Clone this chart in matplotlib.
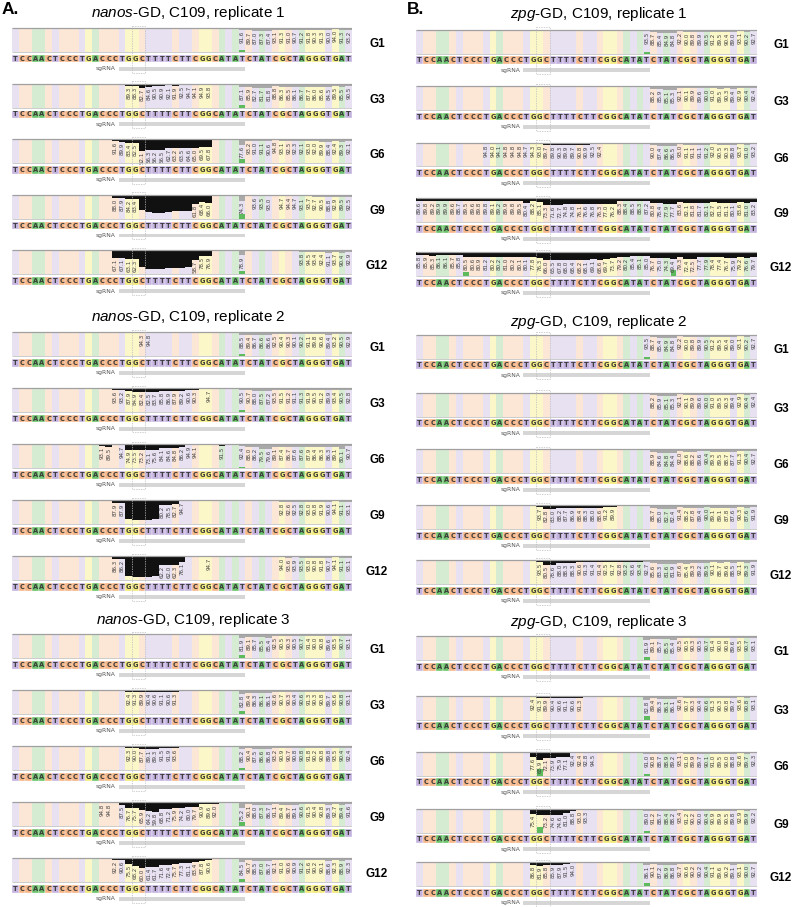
import numpy as np
import matplotlib
matplotlib.use("Agg")
import matplotlib.pyplot as plt
from matplotlib.patches import Rectangle

plt.rcParams["font.family"] = ["Liberation Sans", "DejaVu Sans"]
plt.rcParams["mathtext.fontset"] = "custom"
plt.rcParams["mathtext.it"] = "Liberation Sans:italic"
plt.rcParams["mathtext.rm"] = "Liberation Sans"

# ---------------- data ----------------
sequence = "TCCAACTCCCTGACCCTGGCTTTTCTTCGGCATATCTATCGCTAGGGTGAT"
generations = ["G1", "G3", "G6", "G9", "G12"]
titles_A = [r"$\mathit{nanos}$-GD, C109, replicate 1",
            r"$\mathit{nanos}$-GD, C109, replicate 2",
            r"$\mathit{nanos}$-GD, C109, replicate 3"]
titles_B = [r"$\mathit{zpg}$-GD, C109, replicate 1",
            r"$\mathit{zpg}$-GD, C109, replicate 2",
            r"$\mathit{zpg}$-GD, C109, replicate 3"]

# each panel: list of (first position index, consecutive % values)
nanos_r1_G1 = [(34, [91.6, 89.7, 87.0, 87.3, 87.4, 93.1, 91.3, 91.0, 90.7, 91.2, 91.8, 90.3, 91.3, 90.0, 94.0, 91.3, 93.2])]
nanos_r1_G3 = [(17, [89.3, 88.3, 82.7, 84.6, 90.5, 90.9, 92.1, 91.9, 92.5, 94.7, 94.1, 94.9, 93.8]),
               (34, [87.1, 85.9, 82.7, 81.7, 81.8, 88.8, 86.3, 85.5, 86.1, 86.7, 87.7, 86.0, 85.6, 84.5, 89.5, 85.5, 90.5])]
nanos_r1_G6 = [(15, [91.6, 89.9, 83.4, 82.5, 52.1, 56.3, 56.2, 56.5, 62.7, 63.2, 63.5, 64.6, 65.0, 69.5, 67.8]),
               (34, [77.6, 93.2, 91.0, 91.1, 90.6, 94.8, 93.1, 92.5, 92.3, 92.1, 93.0, 92.0, 89.9, 88.4, 92.4, 89.3, 92.1])]
nanos_r1_G9 = [(15, [88.0, 87.9, 84.2, 83.4, 38.5, 27.0, 25.5, 26.0, 28.0, 30.5, 31.0, 33.5, 61.8, 68.4, 66.0]),
               (34, [74.3]), (36, [93.6, 93.5, 93.0]),
               (40, [94.7, 94.4, 94.7, 93.1, 93.7, 92.7, 90.5, 88.8, 92.9, 89.5, 92.5])]
nanos_r1_G12 = [(15, [67.1, 67.1, 63.1, 62.3, 30.0, 24.5, 23.0, 23.5, 25.0, 26.0, 27.5, 29.0, 58.7, 78.5, 76.9]),
                (34, [78.9]), (43, [93.8, 94.5, 93.4, 92.4, 91.1, 93.7, 90.4, 92.9])]

nanos_r2_G1 = [(18, [95.5, 94.3, 94.8]),
               (34, [88.5, 89.4, 86.7, 86.6, 86.6, 92.5, 90.4, 90.3, 90.1, 90.2, 91.1, 89.8, 90.6, 89.4, 93.2, 90.5, 92.9])]
nanos_r2_G3 = [(15, [93.6, 93.2, 87.9, 84.9, 82.4, 82.5, 83.7, 85.8, 86.9, 87.9, 89.2, 90.6, 90.3]), (29, [94.7]),
               (34, [90.5, 90.7, 88.0, 87.5, 87.2, 93.5, 91.5, 91.2, 91.1, 91.3, 91.9, 90.5, 91.2, 89.9, 93.4, 90.5, 92.8])]
nanos_r2_G6 = [(13, [93.1, 89.5]),
               (16, [94.7, 74.9, 73.5, 73.2, 73.1, 75.6, 84.1, 84.6, 84.8, 86.2, 94.9, 94.1]), (31, [91.5]),
               (34, [92.4, 88.0, 86.2, 79.5, 79.6, 89.1, 87.4, 86.7, 87.6, 87.6, 87.9, 86.4, 86.3, 86.3, 89.1, 80.1, 90.7])]
nanos_r2_G9 = [(15, [87.9, 87.9, 20.0, 18.5, 17.0, 18.0, 22.0, 80.2, 78.5, 82.7, 94.7]),
               (40, [92.8, 92.6, 92.5, 92.8, 93.0, 90.8, 91.9, 90.6, 94.1, 91.1, 93.1])]
nanos_r2_G12 = [(15, [86.3, 86.2, 15.0, 12.5, 12.0, 14.0, 18.0, 62.2, 62.0, 62.3, 76.1]), (29, [94.7]),
                (40, [94.0, 93.6, 93.9, 93.5, 93.0, 90.8, 91.8, 90.7, 94.1, 91.1, 93.1])]

nanos_r3_G1 = [(34, [81.9, 89.1, 85.7, 85.5, 85.4, 92.5, 90.5, 90.3, 90.5, 90.7, 91.4, 90.0, 90.8, 89.6, 93.5, 90.7, 93.1])]
nanos_r3_G3 = [(15, [96.0, 95.5, 92.4, 91.3, 89.9, 90.4, 90.6, 91.1, 90.6, 91.3, 96.0, 97.0]),
               (34, [82.8, 89.4, 86.3, 86.1, 86.1, 92.6, 90.7, 90.3, 90.4, 90.6, 91.3, 90.3, 90.8, 89.7, 93.6, 90.8, 93.1])]
nanos_r3_G6 = [(15, [96.5, 95.5, 92.3, 90.0, 87.7, 89.1, 89.3, 91.5, 91.9, 93.6, 96.5]),
               (34, [88.2, 90.4, 87.5, 86.6, 86.8, 93.2, 90.9, 90.7, 90.8, 90.8, 91.8, 90.2, 90.8, 89.8, 93.5, 90.4, 92.4])]
nanos_r3_G9 = [(13, [94.8, 94.8, 96.0, 87.5, 76.7, 75.7, 65.9, 64.2, 59.8, 68.8, 71.2, 75.9, 74.2, 80.0, 79.7, 90.9, 89.6, 92.0]),
               (34, [75.2, 90.1, 88.0, 87.3, 86.7, 91.1, 89.4, 88.7, 89.1, 90.6, 91.5, 90.4, 90.8, 89.3, 92.7, 89.4, 91.6])]
nanos_r3_G12 = [(15, [92.2, 90.6, 75.5, 68.2, 60.0, 61.4, 61.7, 71.6, 72.4, 75.7, 77.3, 81.1, 83.4, 87.8, 90.6]),
                (34, [84.5, 90.7, 88.5, 87.0, 86.7, 92.1, 91.0, 90.6, 90.9, 91.2, 91.6, 90.2, 90.1, 88.6, 92.3, 88.9, 92.3])]

zpg_r1_G1 = [(15, [97.0, 96.5, 96.5, 96.0, 96.5]),
             (34, [93.5, 88.7, 85.4, 84.9, 84.8, 92.2, 90.0, 89.8, 89.9, 90.5, 91.2, 89.5, 90.4, 89.0, 93.1, 90.2, 92.7])]
zpg_r1_G3 = [(35, [88.2, 85.9, 85.1, 85.3, 92.1, 90.1, 89.9, 89.6, 90.0, 91.0, 89.5, 90.3, 89.4, 92.9, 90.4, 92.4])]
zpg_r1_G6 = [(9, [96.5, 94.8, 94.0, 94.1, 94.8, 94.8, 94.8, 94.7, 94.3, 93.0, 89.7, 89.8, 90.3, 89.9, 89.7,
                  90.8, 90.9, 92.5, 92.4, 96.0, 96.5]),
             (35, [90.0, 87.4, 86.6, 86.5, 93.0, 91.1, 91.1, 91.1, 91.2, 92.0, 90.5, 90.3, 89.8, 93.7, 91.0, 93.2])]
zpg_r1_G9 = [(0, [89.6, 89.8, 89.2, 89.9, 89.9, 89.6, 88.7, 89.5, 89.6, 89.8, 89.8, 89.1, 89.2, 89.9, 89.8, 89.5,
                  80.4, 88.2, 85.1, 73.3, 71.6, 72.7, 74.8, 74.8, 76.1, 76.6, 76.8, 76.3, 77.0, 76.2, 88.3, 88.4,
                  88.5, 88.3, 87.2, 80.8, 78.4, 77.9, 77.7, 83.6, 82.1, 81.8, 81.7, 82.1, 82.7, 81.5, 81.1, 80.1,
                  83.6, 81.0, 83.2])]
zpg_r1_G12 = [(0, [85.8, 85.9, 85.3, 86.1, 86.1, 85.7, 85.8, 80.5, 80.6, 80.9, 81.2, 80.2, 80.2, 81.0, 80.2, 80.1,
                   80.1, 77.8, 76.3, 66.0, 65.5, 67.8, 68.0, 68.4, 68.2, 68.1, 69.1, 68.6, 69.7, 73.7, 79.2, 80.2,
                   85.4, 85.1, 85.0, 76.7, 75.0, 74.3, 69.4, 79.3, 72.4, 72.5, 77.7, 77.9, 78.4, 77.4, 76.7, 75.9,
                   79.2, 76.6, 79.7])]

zpg_r2_G1 = [(15, [97.0, 96.5, 96.5, 96.0, 96.5]),
             (34, [93.5, 88.7, 85.4, 84.9, 84.8, 92.2, 90.0, 89.8, 89.9, 90.5, 91.2, 89.5, 90.4, 89.0, 93.1, 90.2, 92.7])]
zpg_r2_G3 = [(35, [88.2, 85.9, 85.1, 85.3, 92.1, 90.1, 89.9, 89.6, 90.0, 91.0, 89.5, 90.3, 89.4, 92.9, 90.4, 92.4])]
zpg_r2_G6 = [(15, [96.5]), (19, [96.0, 96.5]), (29, [96.0, 96.5]),
             (35, [88.9, 84.6, 84.8, 84.4, 92.0, 88.6, 88.2, 89.6, 90.4, 89.3, 89.5, 88.7, 87.7, 91.3, 90.4, 92.7])]
zpg_r2_G9 = [(17, [96.0, 93.7, 82.8, 83.0, 88.2, 87.7, 86.9, 88.4, 88.3, 88.0, 88.6, 91.2, 89.9]),
             (35, [88.7, 85.0, 82.7, 82.4, 91.4, 88.2, 87.8, 89.4, 90.0, 89.1, 89.1, 87.8, 87.6, 90.3, 87.6, 91.9])]
zpg_r2_G12 = [(18, [93.5, 80.5, 78.6, 88.0, 88.3, 88.3, 90.6, 91.3, 91.4, 91.4, 92.5, 91.7, 92.8, 93.2, 93.6, 93.4, 92.7]),
              (35, [85.6, 83.3, 81.6, 81.9, 87.6, 85.4, 89.3, 89.2, 89.5, 90.1, 88.7, 89.6, 88.5, 92.1, 89.3, 91.9])]

zpg_r3_G1 = [(34, [81.9, 89.1, 85.7, 85.5, 85.4, 92.5, 90.5, 90.3, 90.5, 90.7, 91.4, 90.0, 90.8, 89.6, 93.5, 90.7, 93.1])]
zpg_r3_G3 = [(15, [96.0, 95.5, 92.4, 91.3, 89.9, 90.4, 90.6, 91.1, 90.6, 91.3, 96.0, 97.0]),
             (34, [82.8, 89.4, 86.3, 86.1, 86.1, 92.6, 90.7, 90.3, 90.4, 90.6, 91.3, 90.3, 90.8, 89.7, 93.6, 90.8, 93.1])]
zpg_r3_G6 = [(17, [77.6, 65.9, 72.1, 73.9, 75.9, 77.1, 92.4, 92.4, 92.8, 94.5, 96.5, 97.0]),
             (34, [91.0, 90.8, 88.7, 88.9, 89.2, 93.1, 91.0, 89.9, 89.7, 90.1, 91.0, 89.5, 90.0, 88.8, 92.6, 89.7, 92.3])]
zpg_r3_G9 = [(17, [75.4, 72.0, 73.2, 74.6, 74.6, 81.0, 88.8, 93.0, 93.3, 96.0, 96.5]),
             (34, [89.0, 91.2, 88.7, 88.4, 88.2, 93.4, 91.2, 90.2, 90.0, 90.4, 90.9, 89.9, 90.5, 89.8, 92.9, 89.9, 92.2])]
zpg_r3_G12 = [(17, [86.8, 81.9, 85.8, 85.9, 87.9, 91.5, 94.0, 96.0, 96.5]),
              (34, [86.1, 90.1, 87.2, 86.9, 86.8, 92.7, 90.6, 90.2, 90.2, 90.4, 91.1, 89.6, 90.2, 89.1, 93.1, 90.0, 92.7])]

nanos_panels = [[nanos_r1_G1, nanos_r1_G3, nanos_r1_G6, nanos_r1_G9, nanos_r1_G12],
                [nanos_r2_G1, nanos_r2_G3, nanos_r2_G6, nanos_r2_G9, nanos_r2_G12],
                [nanos_r3_G1, nanos_r3_G3, nanos_r3_G6, nanos_r3_G9, nanos_r3_G12]]
zpg_panels = [[zpg_r1_G1, zpg_r1_G3, zpg_r1_G6, zpg_r1_G9, zpg_r1_G12],
              [zpg_r2_G1, zpg_r2_G3, zpg_r2_G6, zpg_r2_G9, zpg_r2_G12],
              [zpg_r3_G1, zpg_r3_G3, zpg_r3_G6, zpg_r3_G9, zpg_r3_G12]]

# substitution markers (position indices) per panel
nanos_marks = [[[34]] * 5,
               [[34], [34], [34], [], []],
               [[34]] * 5]
zpg_marks = [[[34], [], [], [], [7, 38]],
             [[34], [], [], [], []],
             [[34], [34], [18, 34], [18, 34], [34]]]
# positions whose number is not printed in the original
zpg_unlabeled = [[[], [], [], [], []], [[], [], [], [], []], [[], [], [], [18], []]]
nanos_unlabeled = [[[], [], [], [], []]] * 3
# panels whose whole identity band is dark
zpg_dark = [[False, False, False, True, True], [False] * 5, [False] * 5]
nanos_dark = [[False] * 5] * 3

# ---------------- style / layout ----------------
W, H = 796, 907
N = len(sequence)
BG = {"T": "#e7e1f2", "C": "#fce6d6", "A": "#d6ecd2", "G": "#fcf7c8"}
SEQC = {"T": "#c4b3df", "C": "#f6b687", "A": "#6cc26c", "G": "#f2ea7a"}
BAR_DARK, BAR_GREY, GREEN = "#111111", "#a9a9a9", "#5dbb5d"
AREA_H = 24.0
BAR_SCALE = 0.24
MARK_SCALE = 0.18
TXT_LEN = 12.0

colA = dict(x0=12, pw=340, lx=377,
            tops=[[28, 83.6, 139.2, 194.8, 250.4], [332, 388, 444, 500, 556], [634, 690, 746, 802, 858]],
            title_xy=[(188, 13), (188, 317), (193, 620)], tag="A.", tag_x=2)
colB = dict(x0=416, pw=341, lx=781,
            tops=[[29.5, 86, 142.5, 198.3, 252], [334.5, 392.5, 449, 505, 560], [636, 695.5, 751.5, 808.5, 862]],
            title_xy=[(599, 14), (599, 322), (599, 622)], tag="B.", tag_x=407)


def expand(segs):
    row = np.full(N, np.nan)
    for start, vals in segs:
        row[start:start + len(vals)] = vals
    return row


fig = plt.figure(figsize=(W / 100, H / 100), dpi=100)


def draw_panel(top, x0, pw, segs, label, lx, dark, marks, unlabeled):
    ax = fig.add_axes([x0 / W, 1 - (top + 46) / H, pw / W, 50 / H])
    ax.set_xlim(-0.5, N - 0.5)
    ax.set_ylim(46, -4)
    ax.axis("off")
    pos = np.arange(N)
    ax.bar(pos, AREA_H, bottom=0, width=1.0, color=[BG[b] for b in sequence], linewidth=0, zorder=1)
    vals = expand(segs)
    has = ~np.isnan(vals)
    h = np.clip((100 - vals) * BAR_SCALE, 0, AREA_H)
    cols = np.array([BAR_DARK if (i < 34 or dark) else BAR_GREY for i in range(N)])
    ax.bar(pos[has], h[has], bottom=0, width=1.0, color=cols[has], linewidth=0, zorder=2)
    for m in marks:
        mh = (100 - vals[m]) * MARK_SCALE
        ax.bar(m, mh, bottom=AREA_H - mh, width=0.85, color=GREEN, linewidth=0, zorder=3)
    for i in pos[has]:
        v = vals[i]
        if i in unlabeled:
            continue
        if v < 95 and h[i] + 0.8 + TXT_LEN <= AREA_H + 1.0:
            ax.text(i, h[i] + 0.8, f"{v:.1f}", rotation=90, ha="center", va="top",
                    fontsize=4.0, color="#3f3f3f", zorder=4, family="DejaVu Sans")
    ax.plot([-0.5, N - 0.5], [0, 0], color="#a0a0a0", lw=0.9, zorder=5, solid_capstyle="butt")
    ax.plot([-0.5, N - 0.5], [AREA_H, AREA_H], color="#c4c4c4", lw=0.6, zorder=5, solid_capstyle="butt")
    # sequence row
    ax.bar(pos, 7.6, bottom=26.9, width=1.0, color=[SEQC[b] for b in sequence],
           edgecolor="white", linewidth=0.25, zorder=2)
    for i, b in enumerate(sequence):
        ax.text(i, 30.8, b, ha="center", va="center", fontsize=4.8, color="#3a3a3a",
                family="DejaVu Sans", fontweight="bold", zorder=4)
    # sgRNA
    ax.broken_barh([(15.5, 19.0)], (38.8, 3.8), facecolors="#d6d6d6", zorder=2)
    ax.text(15.1, 40.6, "sgRNA", ha="right", va="center", fontsize=4.3, color="#555555",
            family="DejaVu Sans")
    # cut-site box
    ax.add_patch(Rectangle((17.5, -2.5), 2, 47, fill=False, ls=(0, (2, 1.5)), lw=0.5,
                           edgecolor="#bdbdbd", zorder=6, clip_on=False))
    fig.text(lx / W, 1 - (top + 16) / H, label, ha="center", va="center",
             fontsize=8.5, fontweight="bold")


for col, panels, marks, unl, dark, titles in [
        (colA, nanos_panels, nanos_marks, nanos_unlabeled, nanos_dark, titles_A),
        (colB, zpg_panels, zpg_marks, zpg_unlabeled, zpg_dark, titles_B)]:
    fig.text(col["tag_x"] / W, 1 - 9 / H, col["tag"], ha="left", va="center",
             fontsize=12.5, fontweight="bold")
    for r in range(3):
        tx, ty = col["title_xy"][r]
        fig.text(tx / W, 1 - ty / H, titles[r], ha="center", va="center", fontsize=11)
        for g in range(5):
            draw_panel(col["tops"][r][g], col["x0"], col["pw"], panels[r][g], generations[g],
                       col["lx"], dark[r][g], marks[r][g], unl[r][g])

fig.savefig("out.png", dpi=100)
